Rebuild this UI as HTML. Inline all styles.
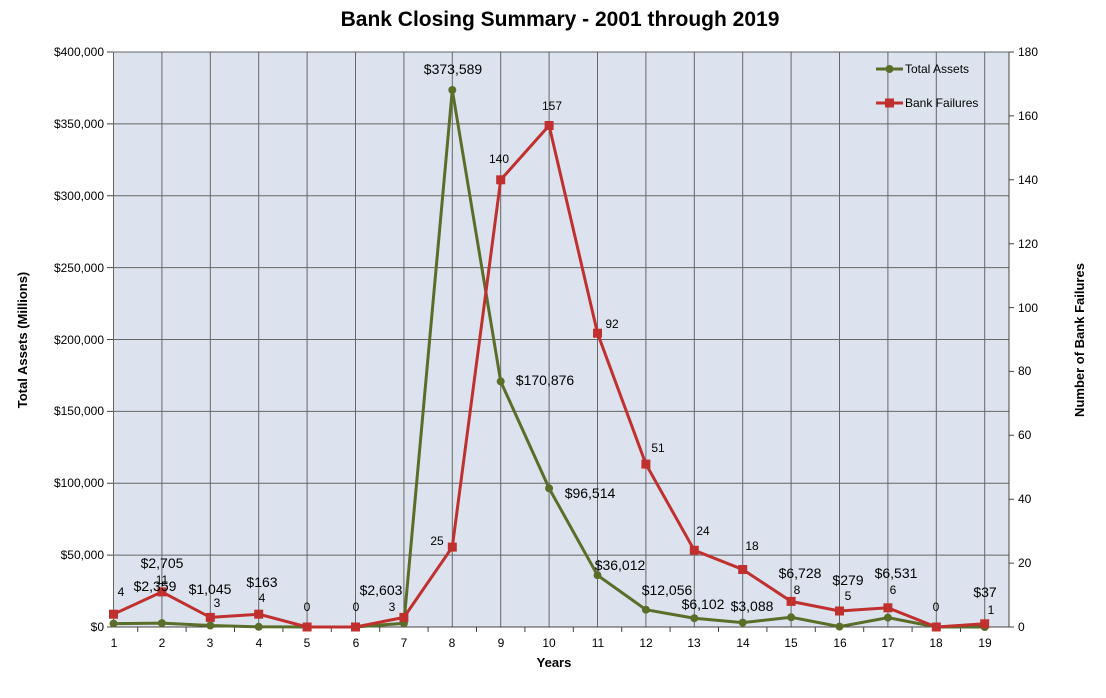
<!DOCTYPE html><html><head><style>body{margin:0;background:#fff}svg text{font-family:"Liberation Sans",Arial,sans-serif}</style></head><body>
<svg width="1106" height="693" xmlns="http://www.w3.org/2000/svg">
<text x="560" y="26" font-size="21" font-weight="bold" text-anchor="middle">Bank Closing Summary - 2001 through 2019</text>
<rect x="113.5" y="52" width="895.5" height="575" fill="#dce3ee"/>
<g stroke="#666" stroke-width="1">
<line x1="113.5" x2="1009" y1="52" y2="52"/><line x1="113.5" x2="1009" y1="123.9" y2="123.9"/><line x1="113.5" x2="1009" y1="195.8" y2="195.8"/><line x1="113.5" x2="1009" y1="267.6" y2="267.6"/><line x1="113.5" x2="1009" y1="339.5" y2="339.5"/><line x1="113.5" x2="1009" y1="411.4" y2="411.4"/><line x1="113.5" x2="1009" y1="483.3" y2="483.3"/><line x1="113.5" x2="1009" y1="555.1" y2="555.1"/>
<line x1="113.5" x2="113.5" y1="52" y2="627"/><line x1="161.9" x2="161.9" y1="52" y2="627"/><line x1="210.3" x2="210.3" y1="52" y2="627"/><line x1="258.7" x2="258.7" y1="52" y2="627"/><line x1="307.1" x2="307.1" y1="52" y2="627"/><line x1="355.5" x2="355.5" y1="52" y2="627"/><line x1="403.9" x2="403.9" y1="52" y2="627"/><line x1="452.3" x2="452.3" y1="52" y2="627"/><line x1="500.7" x2="500.7" y1="52" y2="627"/><line x1="549.1" x2="549.1" y1="52" y2="627"/><line x1="597.5" x2="597.5" y1="52" y2="627"/><line x1="645.9" x2="645.9" y1="52" y2="627"/><line x1="694.3" x2="694.3" y1="52" y2="627"/><line x1="742.7" x2="742.7" y1="52" y2="627"/><line x1="791.1" x2="791.1" y1="52" y2="627"/><line x1="839.5" x2="839.5" y1="52" y2="627"/><line x1="887.9" x2="887.9" y1="52" y2="627"/><line x1="936.3" x2="936.3" y1="52" y2="627"/><line x1="984.7" x2="984.7" y1="52" y2="627"/>
</g>
<g stroke="#444" stroke-width="1">
<line x1="113.5" x2="1009" y1="627" y2="627"/><line x1="1009" x2="1009" y1="52" y2="627"/>
<path d="M1009 52h5M1009 115.9h5M1009 179.8h5M1009 243.7h5M1009 307.6h5M1009 371.4h5M1009 435.3h5M1009 499.2h5M1009 563.1h5M1009 627h5"/>
<path d="M107 52h6M107 123.9h6M107 195.8h6M107 267.6h6M107 339.5h6M107 411.4h6M107 483.3h6M107 555.1h6M107 627h6"/>
<path d="M137.7 627v5M186.1 627v5M234.5 627v5M282.9 627v5M331.3 627v5M379.7 627v5M428.1 627v5M476.5 627v5M524.9 627v5M573.3 627v5M621.7 627v5M670.1 627v5M718.5 627v5M766.9 627v5M815.3 627v5M863.7 627v5M912.1 627v5M960.5 627v5"/>
</g>
<g font-size="12" text-anchor="end">
<text x="104" y="56">$400,000</text><text x="104" y="128">$350,000</text><text x="104" y="200">$300,000</text><text x="104" y="272">$250,000</text><text x="104" y="344">$200,000</text><text x="104" y="415">$150,000</text><text x="104" y="487">$100,000</text><text x="104" y="559">$50,000</text><text x="104" y="631">$0</text>
</g>
<g font-size="12">
<text x="1018" y="56">180</text><text x="1018" y="120">160</text><text x="1018" y="184">140</text><text x="1018" y="248">120</text><text x="1018" y="312">100</text><text x="1018" y="375">80</text><text x="1018" y="439">60</text><text x="1018" y="503">40</text><text x="1018" y="567">20</text><text x="1018" y="631">0</text>
</g>
<g font-size="12" text-anchor="middle">
<text x="114" y="647">1</text><text x="162" y="647">2</text><text x="210" y="647">3</text><text x="259" y="647">4</text><text x="307" y="647">5</text><text x="356" y="647">6</text><text x="404" y="647">7</text><text x="452" y="647">8</text><text x="501" y="647">9</text><text x="549" y="647">10</text><text x="598" y="647">11</text><text x="646" y="647">12</text><text x="694" y="647">13</text><text x="743" y="647">14</text><text x="791" y="647">15</text><text x="840" y="647">16</text><text x="888" y="647">17</text><text x="936" y="647">18</text><text x="985" y="647">19</text>
</g>
<text x="554" y="667" font-size="13" font-weight="bold" text-anchor="middle">Years</text>
<text transform="translate(27,340) rotate(-90)" font-size="13" font-weight="bold" text-anchor="middle">Total Assets  (Millions)</text>
<text transform="translate(1084,340) rotate(-90)" font-size="13" font-weight="bold" text-anchor="middle">Number of Bank Failures</text>
<polyline fill="none" stroke="#5a6e2a" stroke-width="3" points="113.5,623.6 161.9,623.1 210.3,625.5 258.7,626.8 307.1,627 355.5,627 403.9,623.3 452.3,90 500.7,381.4 549.1,488.3 597.5,575.2 645.9,609.7 694.3,618.2 742.7,622.6 791.1,617.3 839.5,626.6 887.9,617.6 936.3,627 984.7,627"/>
<g fill="#5a6e2a"><circle cx="113.5" cy="623.6" r="4"/><circle cx="161.9" cy="623.1" r="4"/><circle cx="210.3" cy="625.5" r="4"/><circle cx="258.7" cy="626.8" r="4"/><circle cx="307.1" cy="627" r="4"/><circle cx="355.5" cy="627" r="4"/><circle cx="403.9" cy="623.3" r="4"/><circle cx="452.3" cy="90" r="4"/><circle cx="500.7" cy="381.4" r="4"/><circle cx="549.1" cy="488.3" r="4"/><circle cx="597.5" cy="575.2" r="4"/><circle cx="645.9" cy="609.7" r="4"/><circle cx="694.3" cy="618.2" r="4"/><circle cx="742.7" cy="622.6" r="4"/><circle cx="791.1" cy="617.3" r="4"/><circle cx="839.5" cy="626.6" r="4"/><circle cx="887.9" cy="617.6" r="4"/><circle cx="936.3" cy="627" r="4"/><circle cx="984.7" cy="627" r="4"/></g>
<polyline fill="none" stroke="#c0302e" stroke-width="3" points="113.5,614.2 161.9,591.9 210.3,617.4 258.7,614.2 307.1,627 355.5,627 403.9,617.4 452.3,547.1 500.7,179.8 549.1,125.5 597.5,333.2 645.9,464.1 694.3,550.3 742.7,569.5 791.1,601.4 839.5,611 887.9,607.8 936.3,627 984.7,623.8"/>
<g fill="#c0302e"><rect x="109" y="609.7" width="9" height="9"/><rect x="157.4" y="587.4" width="9" height="9"/><rect x="205.8" y="612.9" width="9" height="9"/><rect x="254.2" y="609.7" width="9" height="9"/><rect x="302.6" y="622.5" width="9" height="9"/><rect x="351" y="622.5" width="9" height="9"/><rect x="399.4" y="612.9" width="9" height="9"/><rect x="447.8" y="542.6" width="9" height="9"/><rect x="496.2" y="175.3" width="9" height="9"/><rect x="544.6" y="121" width="9" height="9"/><rect x="593" y="328.7" width="9" height="9"/><rect x="641.4" y="459.6" width="9" height="9"/><rect x="689.8" y="545.8" width="9" height="9"/><rect x="738.2" y="565" width="9" height="9"/><rect x="786.6" y="596.9" width="9" height="9"/><rect x="835" y="606.5" width="9" height="9"/><rect x="883.4" y="603.3" width="9" height="9"/><rect x="931.8" y="622.5" width="9" height="9"/><rect x="980.2" y="619.3" width="9" height="9"/></g>
<g font-size="14" text-anchor="middle">
<text x="155" y="591">$2,359</text><text x="162" y="568">$2,705</text><text x="210" y="594">$1,045</text><text x="262" y="587">$163</text><text x="381" y="595">$2,603</text><text x="453" y="74">$373,589</text>
<text x="545" y="385">$170,876</text><text x="590" y="498">$96,514</text><text x="620" y="570">$36,012</text><text x="667" y="595">$12,056</text><text x="703" y="609">$6,102</text><text x="752" y="611">$3,088</text><text x="800" y="578">$6,728</text><text x="848" y="585">$279</text><text x="896" y="578">$6,531</text><text x="985" y="597">$37</text>
</g>
<g font-size="12" text-anchor="middle">
<text x="121" y="596">4</text><text x="162" y="584">11</text><text x="217" y="607">3</text><text x="262" y="602">4</text><text x="307" y="611">0</text><text x="356" y="611">0</text><text x="392" y="611">3</text><text x="437" y="545">25</text><text x="499" y="163">140</text><text x="552" y="110">157</text><text x="612" y="328">92</text><text x="658" y="452">51</text><text x="703" y="535">24</text><text x="752" y="550">18</text><text x="797" y="594">8</text><text x="848" y="600">5</text><text x="893" y="594">6</text><text x="936" y="611">0</text><text x="991" y="614">1</text>
</g>
<line x1="876" x2="903" y1="69" y2="69" stroke="#5a6e2a" stroke-width="3"/><circle cx="889.5" cy="69" r="4" fill="#5a6e2a"/>
<text x="905" y="73" font-size="12">Total Assets</text>
<line x1="876" x2="903" y1="103" y2="103" stroke="#c0302e" stroke-width="3"/><rect x="885" y="98.5" width="9" height="9" fill="#c0302e"/>
<text x="905" y="107" font-size="12">Bank Failures</text>
</svg></body></html>
